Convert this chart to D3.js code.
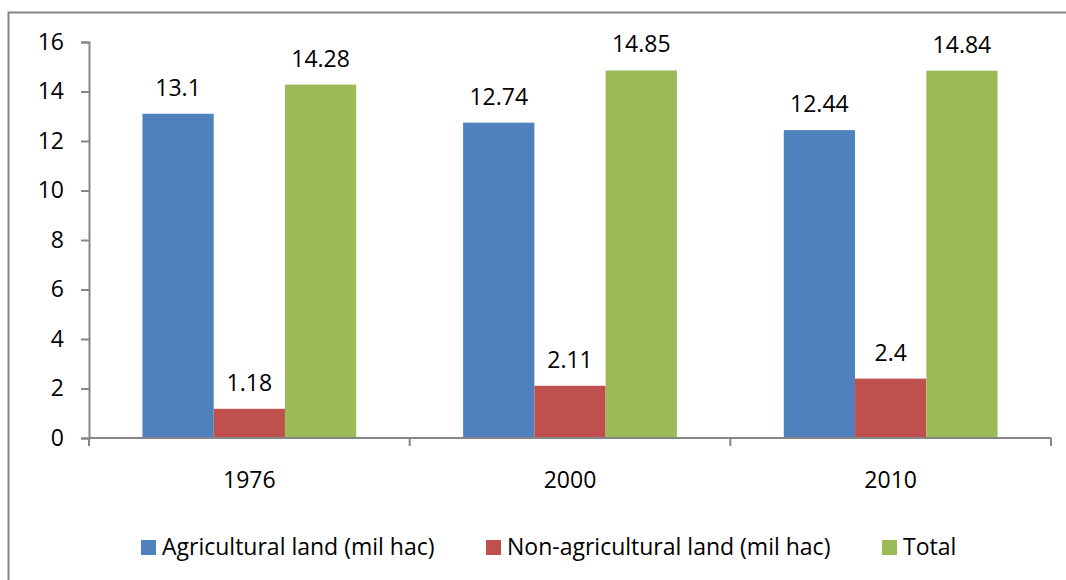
<!DOCTYPE html>
<html>
<head>
<meta charset="utf-8">
<script src="https://cdn.jsdelivr.net/npm/d3@7"></script>
<style>
  html, body { margin: 0; padding: 0; background: #fff; }
  svg { display: block; }
  text { font-family: "Open Sans", "Liberation Sans", sans-serif; fill: #000; }
</style>
</head>
<body>
<svg id="chart" width="1066" height="580"></svg>
<script>
// Land use by year (million hectares)
const years = ["1976", "2000", "2010"];
const seriesNames = ["Agricultural land (mil hac)", "Non-agricultural land (mil hac)", "Total"];
const agricultural = [13.1, 12.74, 12.44];
const nonAgricultural = [1.18, 2.11, 2.4];
const total = [14.28, 14.85, 14.84];
const yTicks = [0, 2, 4, 6, 8, 10, 12, 14, 16];
const colors = ["#4F81BD", "#C0504D", "#9BBB59"];

const seriesValues = [agricultural, nonAgricultural, total];
const FONT = 23;

const svg = d3.select("#chart");
const W = 1066, H = 580;

// Chart frame (extends past the right and bottom edges)
svg.append("rect")
  .attr("x", 8.5).attr("y", 12.5)
  .attr("width", W + 20).attr("height", H + 20)
  .attr("fill", "#fff").attr("stroke", "#868686").attr("stroke-width", 2);

const plot = { left: 89, right: 1051, top: 42, bottom: 438 };

const x0 = d3.scaleBand().domain(years).range([plot.left, plot.right]).paddingInner(0).paddingOuter(0);
// 150% gap between groups: group occupies 3/(3+1.5) of the band
const x1 = d3.scaleBand().domain(d3.range(seriesNames.length))
  .range([0, x0.bandwidth()]).paddingOuter(0.75).paddingInner(0);
const y = d3.scaleLinear().domain([0, 16]).range([plot.bottom, plot.top]);

// Bars and value labels
years.forEach((yr, i) => {
  const g = svg.append("g").attr("transform", `translate(${x0(yr)},0)`);
  seriesValues.forEach((vals, s) => {
    g.append("rect")
      .attr("x", x1(s)).attr("width", x1.bandwidth())
      .attr("y", y(vals[i])).attr("height", y(0) - y(vals[i]))
      .attr("fill", colors[s]);
    g.append("text")
      .attr("x", x1(s) + x1.bandwidth() / 2)
      .attr("y", y(vals[i]) - 18)
      .attr("text-anchor", "middle")
      .attr("font-size", FONT)
      .text(vals[i]);
  });
});

// Y axis
const yAxis = d3.axisLeft(y).tickValues(yTicks).tickSize(8).tickPadding(17);
const gy = svg.append("g").attr("transform", `translate(${plot.left},0)`).call(yAxis);
gy.select(".domain").attr("stroke", "#868686").attr("stroke-width", 2);
gy.selectAll(".tick line").attr("stroke", "#868686").attr("stroke-width", 2);
gy.selectAll(".tick text").attr("font-size", FONT).attr("font-family", "Open Sans, sans-serif").attr("fill", "#000");

// X axis with ticks at category boundaries
svg.append("line")
  .attr("x1", plot.left).attr("x2", plot.right)
  .attr("y1", plot.bottom).attr("y2", plot.bottom)
  .attr("stroke", "#868686").attr("stroke-width", 2);
const boundaries = years.map(d => x0(d)).concat([x0(years[years.length - 1]) + x0.bandwidth()]);
svg.selectAll(".xtick").data(boundaries).enter().append("line")
  .attr("x1", d => d).attr("x2", d => d)
  .attr("y1", plot.bottom).attr("y2", plot.bottom + 8)
  .attr("stroke", "#868686").attr("stroke-width", 2);
svg.selectAll(".xlabel").data(years).enter().append("text")
  .attr("x", d => x0(d) + x0.bandwidth() / 2)
  .attr("y", 488)
  .attr("text-anchor", "middle")
  .attr("font-size", FONT)
  .text(d => d);

// Legend
const legendX = [141, 486, 882];
const lg = svg.selectAll(".legend").data(seriesNames).enter().append("g")
  .attr("transform", (d, i) => `translate(${legendX[i]},540)`);
lg.append("rect").attr("width", 15).attr("height", 15).attr("fill", (d, i) => colors[i]);
lg.append("text").attr("x", 21).attr("y", 15).attr("font-size", FONT).text(d => d);
</script>
</body>
</html>
